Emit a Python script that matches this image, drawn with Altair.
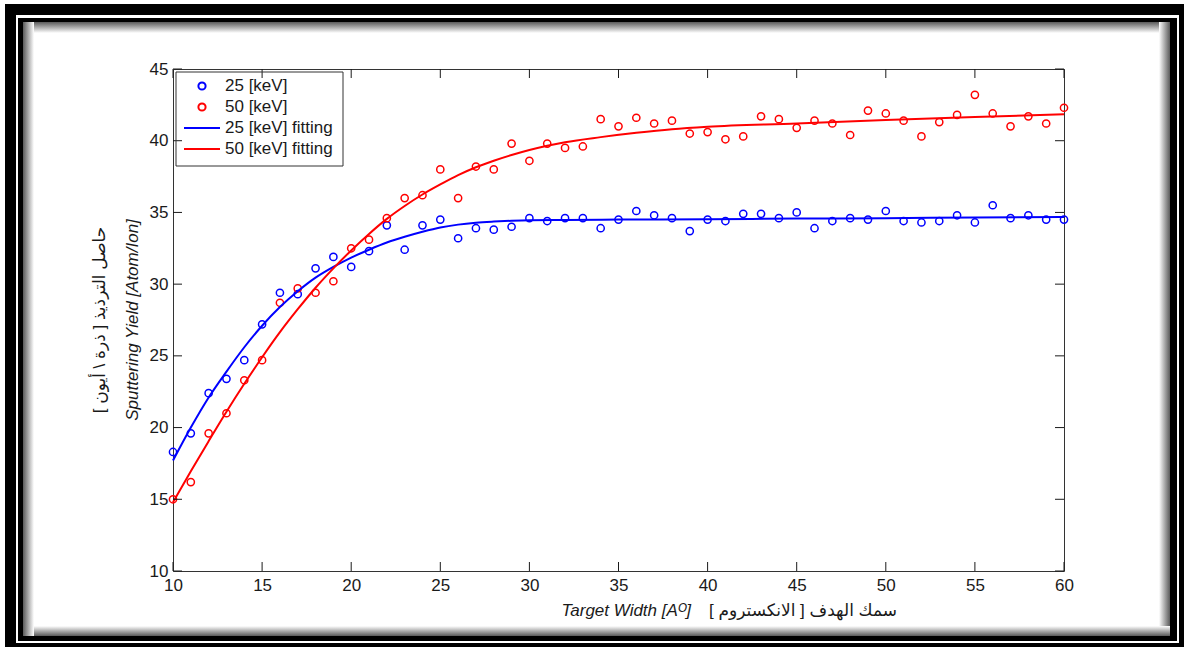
import altair as alt
import pandas as pd

# ---------------- data ----------------
x_vals = list(range(10, 61))

blue_pts = [18.3, 19.6, 22.4, 23.4, 24.7, 27.2, 29.4, 29.3, 31.1, 31.9,
            31.2, 32.3, 34.1, 32.4, 34.1, 34.5, 33.2, 33.9, 33.8, 34.0,
            34.6, 34.4, 34.6, 34.6, 33.9, 34.5, 35.1, 34.8, 34.6, 33.7,
            34.5, 34.4, 34.9, 34.9, 34.6, 35.0, 33.9, 34.4, 34.6, 34.5,
            35.1, 34.4, 34.3, 34.4, 34.8, 34.3, 35.5, 34.6, 34.8, 34.5,
            34.5]

red_pts = [15.0, 16.2, 19.6, 21.0, 23.3, 24.7, 28.7, 29.7, 29.4, 30.2,
           32.5, 33.1, 34.6, 36.0, 36.2, 38.0, 36.0, 38.2, 38.0, 39.8,
           38.6, 39.8, 39.5, 39.6, 41.5, 41.0, 41.6, 41.2, 41.4, 40.5,
           40.6, 40.1, 40.3, 41.7, 41.5, 40.9, 41.4, 41.2, 40.4, 42.1,
           41.9, 41.4, 40.3, 41.3, 41.8, 43.2, 41.9, 41.0, 41.7, 41.2,
           42.3]

blue_fit_x = [10, 11, 12, 13, 14, 15, 16, 17, 18, 19, 20, 21, 22, 23, 24,
              25, 26, 27, 28, 29, 30, 32, 35, 40, 45, 50, 55, 60]
blue_fit_y = [17.7, 20.0, 22.1, 23.9, 25.6, 27.1, 28.4, 29.5, 30.45, 31.2,
              31.85, 32.4, 32.9, 33.3, 33.65, 33.95, 34.15, 34.28, 34.36,
              34.42, 34.46, 34.48, 34.5, 34.53, 34.57, 34.6, 34.65, 34.68]

red_fit_x = [10, 11, 12, 13, 14, 15, 16, 17, 18, 19, 20, 21, 22, 23, 24,
             25, 26, 27, 28, 29, 30, 31, 32, 34, 36, 38, 40, 45, 50, 55, 60]
red_fit_y = [14.8, 16.95, 19.05, 21.1, 23.05, 24.9, 26.65, 28.25, 29.75,
             31.1, 32.35, 33.5, 34.55, 35.45, 36.25, 36.95, 37.6, 38.15,
             38.6, 39.0, 39.35, 39.65, 39.9, 40.25, 40.55, 40.8, 40.97,
             41.2, 41.45, 41.65, 41.85]

x_ticks = [10, 15, 20, 25, 30, 35, 40, 45, 50, 55, 60]
y_ticks = [10, 15, 20, 25, 30, 35, 40, 45]

labels = ["25 [keV]", "50 [keV]", "25 [keV] fitting", "50 [keV] fitting"]
colors = ["#0000ff", "#ff0000", "#0000ff", "#ff0000"]

x_title_en = "Target Width [A\u1d3c]"
x_title_ar = "سمك الهدف [ الانكستروم ]\u200f"
y_title_en = "Sputtering Yield [Atom/Ion]"
y_title_ar = "حاصل الترذيذ [ ذرة \\ أيون ]\u200f"

# ---------------- layout ----------------
W, H = 891, 502
L, T = 173, 69
FONT = "Liberation Sans, Arial, DejaVu Sans"
INK = "#1a1a1a"
CIRCLE = "M0.3,0A0.3,0.3,0,1,1,-0.3,0A0.3,0.3,0,1,1,0.3,0Z"
STROKE = "M-1.5,0L1.5,0"

pts = pd.DataFrame({
    "x": x_vals * 2,
    "y": blue_pts + red_pts,
    "series": [labels[0]] * len(x_vals) + [labels[1]] * len(x_vals),
})
fits = pd.DataFrame({
    "x": blue_fit_x + red_fit_x,
    "y": blue_fit_y + red_fit_y,
    "series": [labels[2]] * len(blue_fit_x) + [labels[3]] * len(red_fit_x),
})
xt = pd.DataFrame({"x": x_ticks})
yt = pd.DataFrame({"y": y_ticks})
one = pd.DataFrame({"a": [0]})

xs = alt.Scale(domain=[10, 60], nice=False, zero=False)
ys = alt.Scale(domain=[10, 45], nice=False, zero=False)
cs = alt.Scale(domain=labels, range=colors)
ss = alt.Scale(domain=labels, range=[CIRCLE, CIRCLE, STROKE, STROKE])

xaxis = alt.Axis(values=x_ticks, ticks=False, domain=False, grid=False,
                 labelFontSize=17, labelFont=FONT, labelColor=INK,
                 labelPadding=6, labelFlush=False, title=None)
yaxis = alt.Axis(values=y_ticks, ticks=False, domain=False, grid=False,
                 labelFontSize=17, labelFont=FONT, labelColor=INK,
                 labelPadding=5, labelFlush=False, title=None)

legend = alt.Legend(orient="none", legendX=16, legendY=4, padding=0,
                    symbolSize=576, rowPadding=0, labelOffset=10,
                    labelFontSize=17, labelFont=FONT, labelColor=INK,
                    symbolStrokeWidth=2, labelLimit=300)

X = alt.X("x:Q", scale=xs, axis=xaxis)
Y = alt.Y("y:Q", scale=ys, axis=yaxis)

points = alt.Chart(pts).mark_point(filled=False, strokeWidth=1.5, size=576, opacity=1).encode(
    x=X, y=Y,
    color=alt.Color("series:N", scale=cs, legend=legend, title=None),
    shape=alt.Shape("series:N", scale=ss, legend=legend, title=None),
)

lines = alt.Chart(fits).mark_line(strokeWidth=2, interpolate="monotone").encode(
    x=X, y=Y,
    color=alt.Color("series:N", scale=cs, legend=legend, title=None),
    detail="series:N",
)

# inward ticks on all four sides
tick_len = 9
tb = alt.Chart(xt).mark_rule(color=INK, strokeWidth=1).encode(
    x=X, y=alt.value(H), y2=alt.value(H - tick_len))
tt = alt.Chart(xt).mark_rule(color=INK, strokeWidth=1).encode(
    x=X, y=alt.value(0), y2=alt.value(tick_len))
tl = alt.Chart(yt).mark_rule(color=INK, strokeWidth=1).encode(
    y=Y, x=alt.value(0), x2=alt.value(tick_len))
tr = alt.Chart(yt).mark_rule(color=INK, strokeWidth=1).encode(
    y=Y, x=alt.value(W), x2=alt.value(W - tick_len))

# legend box
legbox = alt.Chart(one).mark_rect(fillOpacity=0, stroke="#333333", strokeWidth=1).encode(
    x=alt.value(3), x2=alt.value(170), y=alt.value(3), y2=alt.value(97))

# titles
def txt(s, x, y, align, angle=0, italic=False, size=17):
    kw = dict(font=FONT, fontSize=size, color=INK, align=align, baseline="middle")
    if angle:
        kw["angle"] = angle
    if italic:
        kw["fontStyle"] = "italic"
    return alt.Chart(one).mark_text(**kw).encode(
        x=alt.value(x), y=alt.value(y), text=alt.value(s))

titles = [
    txt(x_title_en, 691 - L, 611 - T, "right", italic=True),
    txt(x_title_ar, 709 - L, 611 - T, "left", size=17),
    txt(y_title_en, 133 - L, 320 - T, "center", angle=270, italic=True),
    txt(y_title_ar, 100 - L, 320 - T, "center", angle=270, size=17),
]

# decorative picture frame (absolute page coordinates)
def bar(x1, y1, x2, y2, color):
    return alt.Chart(one).mark_rect(color=color).encode(
        x=alt.value(x1 - L), x2=alt.value(x2 - L),
        y=alt.value(y1 - T), y2=alt.value(y2 - T))

def grad(x1, y1, x2, y2, gx1, gy1, gx2, gy2):
    g = alt.LinearGradient(
        gradient="linear",
        stops=[alt.GradientStop(color="#5a5a5a", offset=0),
               alt.GradientStop(color="#ffffff", offset=1)],
        x1=gx1, y1=gy1, x2=gx2, y2=gy2)
    return alt.Chart(one).mark_rect(color=g).encode(
        x=alt.value(x1 - L), x2=alt.value(x2 - L),
        y=alt.value(y1 - T), y2=alt.value(y2 - T))

frame = [
    grad(23, 22, 1170, 33, 0, 0, 0, 1),      # top shadow
    grad(1159, 22, 1170, 636, 1, 0, 0, 0),   # right shadow
    grad(23, 626, 1170, 636, 0, 1, 0, 0),    # bottom shadow
    grad(23, 22, 34, 636, 0, 0, 1, 0),       # left shadow
    bar(5, 4, 1184, 15, "#000000"),
    bar(5, 4, 16, 647, "#000000"),
    bar(1179, 4, 1184, 647, "#000000"),
    bar(5, 643, 1184, 647, "#000000"),
    bar(18, 18, 1177, 22, "#000000"),
    bar(18, 18, 23, 641, "#000000"),
    bar(1170, 18, 1177, 641, "#000000"),
    bar(18, 636, 1177, 641, "#000000"),
]

chart = alt.layer(
    *frame, points, lines, tb, tt, tl, tr, legbox, *titles
).properties(
    width=W, height=H,
    padding={"left": L, "top": T, "right": 1186 - L - W, "bottom": 650 - T - H},
    autosize=alt.AutoSizeParams(type="none"),
    background="#ffffff",
).configure_view(stroke="#333333", strokeWidth=1)

chart.save("out.html", embed_options={"renderer": "svg", "actions": False})
